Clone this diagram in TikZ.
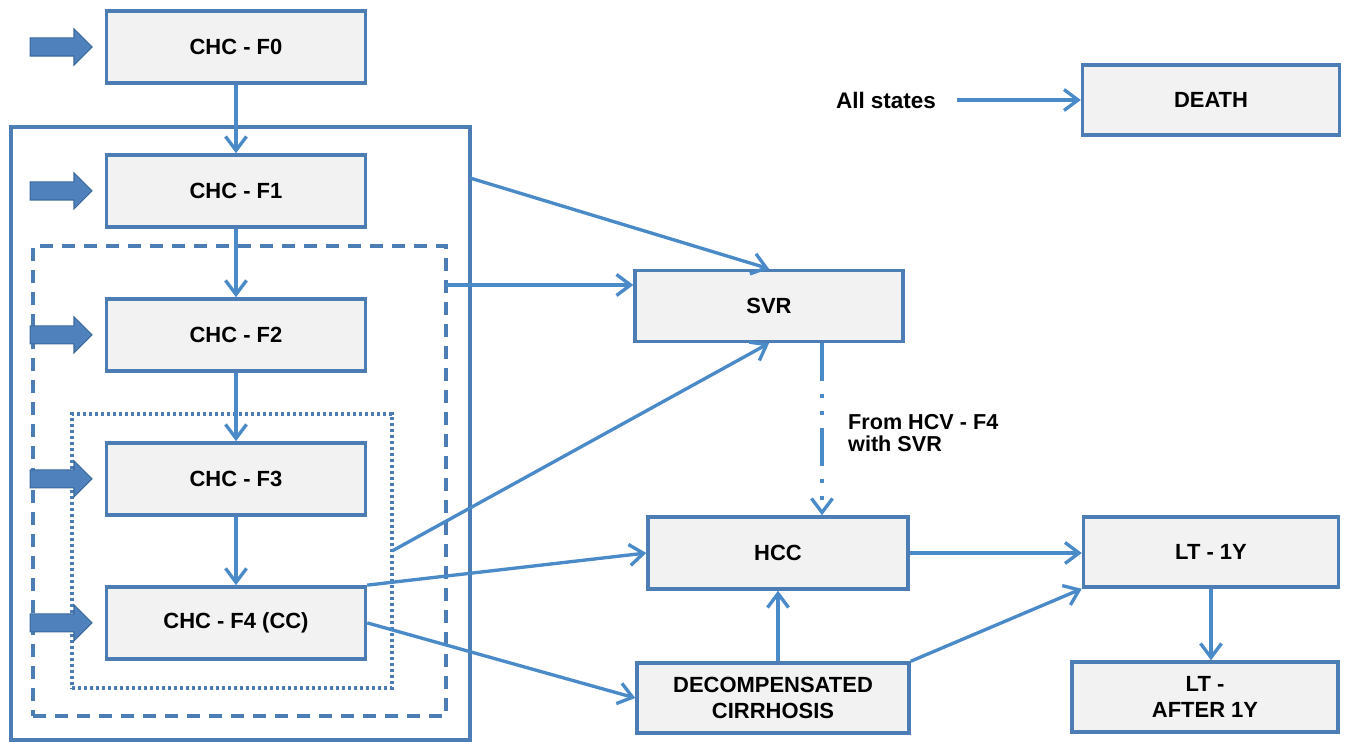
\documentclass[tikz,border=0pt]{standalone}
\usepackage{fontspec}
\setmainfont{Liberation Sans}
\usetikzlibrary{positioning,shapes.arrows,arrows.meta,fit}

\definecolor{linkblue}{HTML}{4A8AC8}
\definecolor{boxedge}{HTML}{4C7EB5}
\definecolor{boxfill}{HTML}{F2F2F2}
\definecolor{arrowfill}{HTML}{4F81BD}
\definecolor{arrowedge}{HTML}{3B6A9C}

\begin{document}
\begin{tikzpicture}[x=0.02cm,y=-0.02cm,node distance=2.88cm,
    state node/.style={draw=boxedge,fill=boxfill,line width=2pt,minimum width=5.18cm,minimum height=1.44cm,font=\bfseries\fontsize{12.5}{14.5}\selectfont,align=center},
    fat arrow/.style={single arrow,fill=arrowfill,draw=arrowedge,line width=0.6pt,minimum height=1.24cm,minimum width=0.7cm,single arrow head extend=0.18cm,inner sep=0.17cm,anchor=tip},
    zone/.style={draw=boxedge,line width=2pt,inner sep=0pt},
    conn/.style={draw=linkblue,line width=1.9pt,-{Straight Barb[length=0.28cm,width=0.42cm]}}]

    \useasboundingbox (0,0) rectangle (1348,743);

    % nested groups of fibrosis stages
    \node[zone,fit={(11,127) (470,740)}] (zone1) {};
    \node[zone,fit={(33,246) (446,716)},dash pattern=on 0.26cm off 0.18cm] (zone2) {};
    \node[zone,fit={(72,414) (392,688)},line width=2pt,dash pattern=on 0.06cm off 0.06cm] (zone3) {};

    \node (f0) [state node] at (236,47) {CHC - F0};
    \node (f1) [state node,below of=f0] {CHC - F1};
    \node (f2) [state node,below of=f1] {CHC - F2};
    \node (f3) [state node,below of=f2] {CHC - F3};
    \node (f4) [state node,below of=f3] {CHC - F4 (CC)};

    \foreach \k in {0,...,4}
        \node[fat arrow] (in\k) at ([xshift=-0.24cm]f\k.west) {};

    \node (svr) [state node,minimum width=5.36cm,minimum height=1.42cm] at (769,306) {SVR};
    \node (hcc) [state node,minimum width=5.2cm] at (778,553) {HCC};
    \node (decomp) [state node,minimum width=5.44cm,minimum height=1.4cm] at (773,698) {DECOMPENSATED\\CIRRHOSIS};
    \node (death) [state node,minimum width=5.14cm,minimum height=1.4cm] at (1211,100) {DEATH};
    \node (lt1) [state node,minimum width=5.1cm,minimum height=1.4cm] at (1211,552) {LT - 1Y};
    \node (ltafter) [state node,minimum width=5.32cm,minimum height=1.4cm] at (1205,697) {LT -\\AFTER 1Y};

    \node (allst) [font=\bfseries\fontsize{12.8}{15}\selectfont] at (886,100) {All states};
    \node (svrnote) [anchor=west,align=left,font=\bfseries\fontsize{12.3}{12.6}\selectfont] at (842,433) {From HCV - F4\\with SVR};

    \coordinate (exit1) at (470,178);
    \coordinate (exit2) at (446,285);
    \coordinate (exit3) at (392,551);

    \path[every edge/.append style={conn}]
    (f0) edge (f1)
    (f1) edge (f2)
    (f2) edge (f3)
    (f3) edge (f4)

    (exit1) edge (svr.north)
    (exit2) edge (exit2 -| svr.west)
    (exit3) edge (svr.south)

    (f4.north east) edge (hcc.west)
    (f4.east) edge (decomp.west)
    (decomp.north -| hcc.south) edge (hcc.south)
    (hcc.east) edge (hcc.east -| lt1.west)
    (decomp.north east) edge (lt1.south west)
    (lt1.south) edge (lt1.south |- ltafter.north)

    ([xshift=0.3cm]allst.east) edge (death)
        ;

    \draw[conn,dash pattern=on 0.76cm off 0.26cm on 0.08cm off 0.26cm on 0.08cm off 0.26cm]
        (svr.south -| 822,0) -- (hcc.north -| 822,0);
\end{tikzpicture}
\end{document}
